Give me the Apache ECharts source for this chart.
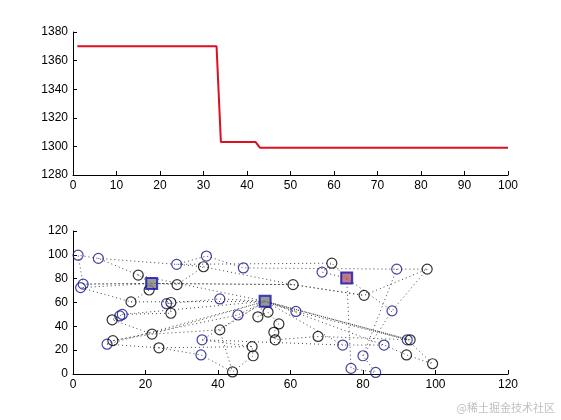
<!DOCTYPE html>
<html>
<head>
<meta charset="utf-8">
<script src="https://cdn.jsdelivr.net/npm/echarts@6/dist/echarts.min.js"></script>
<style>html,body{margin:0;padding:0;background:#fff}#c{width:561px;height:420px}</style>
</head>
<body>
<div id="c"></div>
<script>
// ---- top subplot: best cost per generation ----
var generations = [];
for (var g = 1; g <= 100; g++) generations.push(g);
var bestCost = [
 1370,1370,1370,1370,1370,1370,1370,1370,1370,1370,
 1370,1370,1370,1370,1370,1370,1370,1370,1370,1370,
 1370,1370,1370,1370,1370,1370,1370,1370,1370,1370,
 1370,1370,1370,1303,1303,1303,1303,1303,1303,1303,
 1303,1303,1299,1299,1299,1299,1299,1299,1299,1299,
 1299,1299,1299,1299,1299,1299,1299,1299,1299,1299,
 1299,1299,1299,1299,1299,1299,1299,1299,1299,1299,
 1299,1299,1299,1299,1299,1299,1299,1299,1299,1299,
 1299,1299,1299,1299,1299,1299,1299,1299,1299,1299,
 1299,1299,1299,1299,1299,1299,1299,1299,1299,1299
];
var topXTicks = [0,10,20,30,40,50,60,70,80,90,100];
var topYTicks = [1280,1300,1320,1340,1360,1380];

// ---- bottom subplot: depots, customers, routes ----
var depots = [[21.7,76],[53,61],[75.5,80.5]];
var blueCustomers = [
 [1.4,99.7],[7,97],[2.8,75.4],[2.1,72.5],[28.6,92],[36.8,99],[47,89],[25.8,59],
 [13.6,50],[12.9,48.7],[40.5,63],[45.5,49.5],[35.6,28.7],[9.4,25],[35.3,16],
 [68.7,85.5],[89.3,88],[61.5,52.5],[88,53],[74.4,24.3],[85.8,24.3],[92.2,28.7],
 [80,15.3],[76.7,4.7],[83.5,1.3]
];
var blackCustomers = [
 [18,83],[21,70.5],[36,90],[28.7,75],[16,60.5],[27,60],[27,51],[10.8,45.5],
 [51,48],[53.8,52],[40.5,37],[21.8,33.5],[11,28],[23.7,22],[49.4,23],[49.7,15.3],
 [44,1.7],[56.8,42],[55.4,35],[55.8,28.7],[71.4,93],[97.7,88],[60.7,75],[80.3,66],
 [67.6,31.5],[93,28.7],[92,16],[99.2,8.6]
];
var routes = [
 [[21.7,76],[18,83],[7,97],[1.4,99.7],[2.8,75.4],[21.7,76]],
 [[21.7,76],[2.1,72.5],[16,60.5],[21,70.5],[21.7,76]],
 [[21.7,76],[28.7,75],[36,90],[28.6,92],[36.8,99],[47,89],[89.3,88],[97.7,88],[80.3,66],[60.7,75],[21.7,76]],
 [[53,61],[40.5,63],[25.8,59],[27,60],[27,51],[13.6,50],[12.9,48.7],[10.8,45.5],[21.8,33.5],[40.5,37],[53,61]],
 [[53,61],[45.5,49.5],[11,28],[9.4,25],[23.7,22],[35.3,16],[44,1.7],[49.7,15.3],[49.4,23],[35.6,28.7],[53,61]],
 [[53,61],[51,48],[53.8,52],[56.8,42],[55.4,35],[55.8,28.7],[67.6,31.5],[93,28.7],[53,61]],
 [[53,61],[61.5,52.5],[92.2,28.7],[99.2,8.6],[92,16],[85.8,24.3],[74.4,24.3],[53,61]],
 [[75.5,80.5],[88,53],[80,15.3],[83.5,1.3],[76.7,4.7],[75.5,80.5]],
 [[75.5,80.5],[68.7,85.5],[71.4,93],[75.5,80.5]]
];
var extraLinks = [
 [[2.8,75.4],[21.7,76],[60.7,75]],
 [[7,97],[28.6,92],[71.4,93]],
 [[9.4,25],[53,61]],
 [[11,28],[21.8,33.5],[53,61]],
 [[16,60.5],[53,61],[92.2,28.7]],
 [[13.6,50],[53,61],[85.8,24.3]],
 [[53,61],[93,28.7]],
 [[36,90],[60.7,75],[80.3,66]],
 [[97.7,88],[88,53]],
 [[89.3,88],[80,15.3]],
 [[40.5,37],[44,1.7]],
 [[35.6,28.7],[74.4,24.3]],
 [[23.7,22],[49.4,23]],
 [[18,83],[53,61],[61.5,52.5]]
];
var bottomTicks = [0,20,40,60,80,100,120];

var font = 'Liberation Sans, Arial, sans-serif';
var axisCommon = function (grid, min, max, interval) {
  return {
    gridIndex: grid, type: 'value', min: min, max: max, interval: interval,
    axisLine: {show: true, onZero: false, lineStyle: {color: '#000', width: 1}},
    axisTick: {show: true, inside: true, length: 4, lineStyle: {color: '#000'}},
    axisLabel: {color: '#000', fontSize: 12, fontFamily: font, margin: 5,
      formatter: function (v) { return String(v); }},
    splitLine: {show: false}
  };
};

var series = [];
series.push({
  type: 'line', xAxisIndex: 0, yAxisIndex: 0, symbol: 'none',
  data: generations.map(function (g, i) { return [g, bestCost[i]]; }),
  lineStyle: {color: '#dc1020', width: 2}, animation: false
});
routes.concat(extraLinks).forEach(function (r) {
  series.push({
    type: 'line', xAxisIndex: 1, yAxisIndex: 1, symbol: 'none', data: r,
    lineStyle: {color: '#444', width: 1, type: [1, 3]}, animation: false, z: 1
  });
});
series.push({
  type: 'scatter', xAxisIndex: 1, yAxisIndex: 1, symbol: 'circle', symbolSize: 10,
  data: blueCustomers, itemStyle: {color: 'rgba(0,0,0,0)', borderColor: '#14148c', borderWidth: 1.2},
  animation: false, z: 3
});
series.push({
  type: 'scatter', xAxisIndex: 1, yAxisIndex: 1, symbol: 'circle', symbolSize: 10,
  data: blackCustomers, itemStyle: {color: 'rgba(0,0,0,0)', borderColor: '#000', borderWidth: 1.2},
  animation: false, z: 3
});
series.push({
  type: 'scatter', xAxisIndex: 1, yAxisIndex: 1, symbol: 'rect', symbolSize: 11,
  data: depots.map(function (d, i) {
    return {value: d, itemStyle: {color: i === 2 ? '#b0586e' : '#808080'}};
  }),
  itemStyle: {borderColor: '#1010b0', borderWidth: 2},
  animation: false, z: 4
});

var chart = echarts.init(document.getElementById('c'), null, {renderer: 'canvas'});
chart.setOption({
  animation: false,
  backgroundColor: '#fff',
  grid: [
    {left: 73, right: 53, top: 32, height: 143},
    {left: 73, right: 53, top: 231, height: 143}
  ],
  xAxis: [
    axisCommon(0, topXTicks[0], topXTicks[topXTicks.length - 1], 10),
    axisCommon(1, bottomTicks[0], bottomTicks[bottomTicks.length - 1], 20)
  ],
  yAxis: [
    axisCommon(0, topYTicks[0], topYTicks[topYTicks.length - 1], 20),
    axisCommon(1, bottomTicks[0], bottomTicks[bottomTicks.length - 1], 20)
  ],
  graphic: [{
    type: 'text', right: 6, top: 402,
    style: {text: '@稀土掘金技术社区', fill: '#c0c0c0', fontSize: 11, fontFamily: 'Noto Sans CJK SC'}
  }],
  series: series
});
</script>
</body>
</html>
